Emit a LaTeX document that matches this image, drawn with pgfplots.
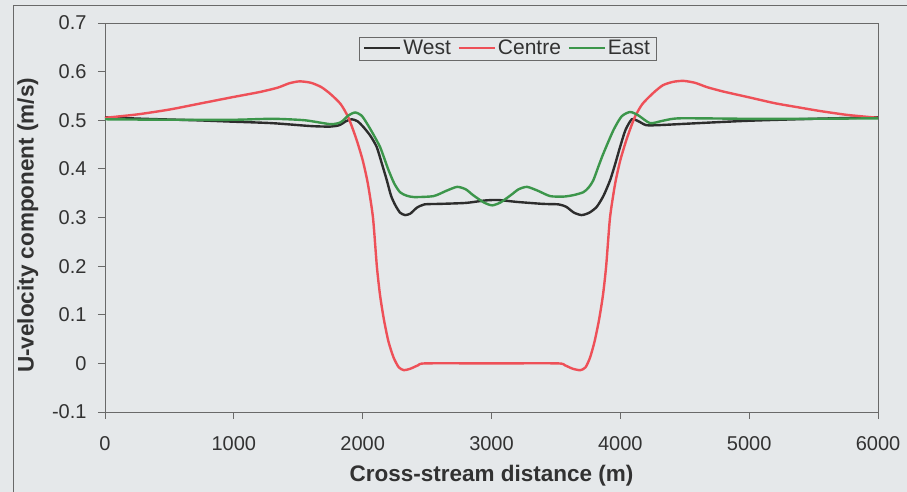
\documentclass[border=0pt]{standalone}
\usepackage{pgfplots}
\pgfplotsset{compat=1.18}
\usepackage{fontspec}
\setmainfont{Liberation Sans}
\definecolor{bg}{RGB}{229,232,234}
\definecolor{axgray}{RGB}{105,105,105}
\definecolor{txt}{RGB}{50,50,50}
\definecolor{cred}{RGB}{238,80,88}
\definecolor{cblack}{RGB}{45,45,45}
\definecolor{cgreen}{RGB}{60,150,75}
\begin{document}
\begin{tikzpicture}
\fill[bg] (0,0) rectangle (907pt,492pt);
\useasboundingbox (0,0) rectangle (907pt,492pt);
\draw[axgray, line width=0.8pt] (13pt,-5pt) -- (13pt,487pt) -- (915pt,487pt);
\begin{axis}[
  at={(105pt,80pt)}, anchor=south west,
  scale only axis, width=773pt, height=389pt,
  xmin=0, xmax=6000, ymin=-0.1, ymax=0.7,
  xtick={0,1000,2000,3000,4000,5000,6000},
  ytick={-0.1,0,0.1,0.2,0.3,0.4,0.5,0.6,0.7},
  yticklabels={-0.1,0,0.1,0.2,0.3,0.4,0.5,0.6,0.7},
  xtick pos=bottom, ytick pos=left,
  tick align=outside, major tick length=7pt,
  axis line style={axgray, line width=0.8pt},
  every tick/.style={axgray, line width=0.8pt},
  /pgf/number format/assume math mode=true,
  /pgf/number format/1000 sep={},
  ticklabel style={font=\fontsize{20}{24}\selectfont, text=txt},
  xticklabel style={yshift=-14pt},
  yticklabel style={xshift=-8pt},
  xlabel={Cross-stream distance (m)},
  ylabel={U-velocity component (m/s)},
  label style={font=\bfseries\fontsize{22.5}{26}\selectfont, text=txt},
  xlabel style={at={(axis description cs:0.5,-0.163)}, anchor=center},
  ylabel style={at={(axis description cs:-0.1,0.48)}, anchor=center},
  axis background/.style={fill=bg},
  legend columns=3,
  legend style={at={(axis description cs:0.521,0.935)}, anchor=center,
    draw=axgray, fill=bg, font=\fontsize{21}{24}\selectfont, text=txt,
    inner xsep=4pt, inner ysep=1.5pt,
    nodes={inner sep=2pt},
    /tikz/every even column/.append style={column sep=5pt}},
  legend image code/.code={\draw[#1, line width=2pt] (0pt,0pt) -- (36pt,0pt);},
  every axis plot/.append style={line width=2.4pt, smooth, tension=0.4},
]
\addplot[cblack] coordinates {
(0,0.506) (300,0.503) (700,0.500) (1000,0.497) (1300,0.494) (1600,0.488)
(1750,0.487) (1820,0.490) (1870,0.498) (1915,0.502) (1960,0.498) (2006,0.486)
(2060,0.468) (2109,0.445) (2150,0.410) (2187,0.377) (2220,0.345) (2252,0.326)
(2290,0.310) (2329,0.305) (2370,0.308) (2420,0.320) (2480,0.327) (2600,0.328)
(2800,0.330) (2950,0.335) (3050,0.336) (3200,0.332) (3400,0.328) (3520,0.327)
(3580,0.322) (3640,0.310) (3700,0.305) (3760,0.310) (3817,0.322) (3870,0.345)
(3921,0.377) (3960,0.410) (3998,0.445) (4040,0.480) (4089,0.502) (4140,0.498)
(4200,0.490) (4300,0.490) (4600,0.494) (5000,0.499) (5500,0.503) (6000,0.506)
};
\addlegendentry{West}
\addplot[cred] coordinates {
(0,0.505) (250,0.512) (500,0.522) (750,0.535) (1000,0.548) (1200,0.558)
(1340,0.567) (1430,0.576) (1510,0.580) (1600,0.577) (1680,0.568) (1750,0.554)
(1830,0.533) (1890,0.505) (1950,0.462) (2000,0.418) (2040,0.370) (2080,0.300)
(2110,0.200) (2135,0.140) (2165,0.090) (2200,0.045) (2240,0.012) (2280,-0.008)
(2320,-0.014) (2370,-0.011) (2430,-0.004) (2490,0.000) (3000,0.000) (3510,0.000)
(3570,-0.004) (3630,-0.011) (3690,-0.014) (3730,-0.008) (3765,0.012) (3800,0.045)
(3835,0.090) (3865,0.140) (3890,0.200) (3920,0.300) (3960,0.370) (4000,0.418)
(4050,0.462) (4110,0.505) (4170,0.533) (4255,0.556) (4330,0.572) (4410,0.579)
(4490,0.581) (4580,0.577) (4674,0.568) (4800,0.559) (4984,0.548) (5200,0.535)
(5372,0.527) (5550,0.519) (5761,0.511) (6000,0.505)
};
\addlegendentry{Centre}
\addplot[cgreen] coordinates {
(0,0.502) (500,0.501) (1000,0.501) (1300,0.503) (1550,0.500) (1750,0.492)
(1830,0.496) (1890,0.510) (1941,0.516) (1990,0.510) (2032,0.494) (2085,0.470)
(2135,0.445) (2170,0.420) (2200,0.398) (2245,0.370) (2290,0.352) (2340,0.345)
(2400,0.342) (2550,0.344) (2650,0.355) (2733,0.363) (2800,0.358) (2857,0.346)
(2940,0.331) (3005,0.325) (3070,0.331) (3150,0.346) (3210,0.358) (3276,0.363)
(3360,0.355) (3455,0.344) (3560,0.343) (3636,0.346) (3713,0.352) (3755,0.362)
(3791,0.377) (3830,0.405) (3869,0.432) (3947,0.480) (4010,0.508) (4076,0.517)
(4140,0.510) (4231,0.494) (4330,0.499) (4464,0.504) (5000,0.503) (5500,0.503)
(6000,0.504)
};
\addlegendentry{East}
\end{axis}
\end{tikzpicture}
\end{document}
